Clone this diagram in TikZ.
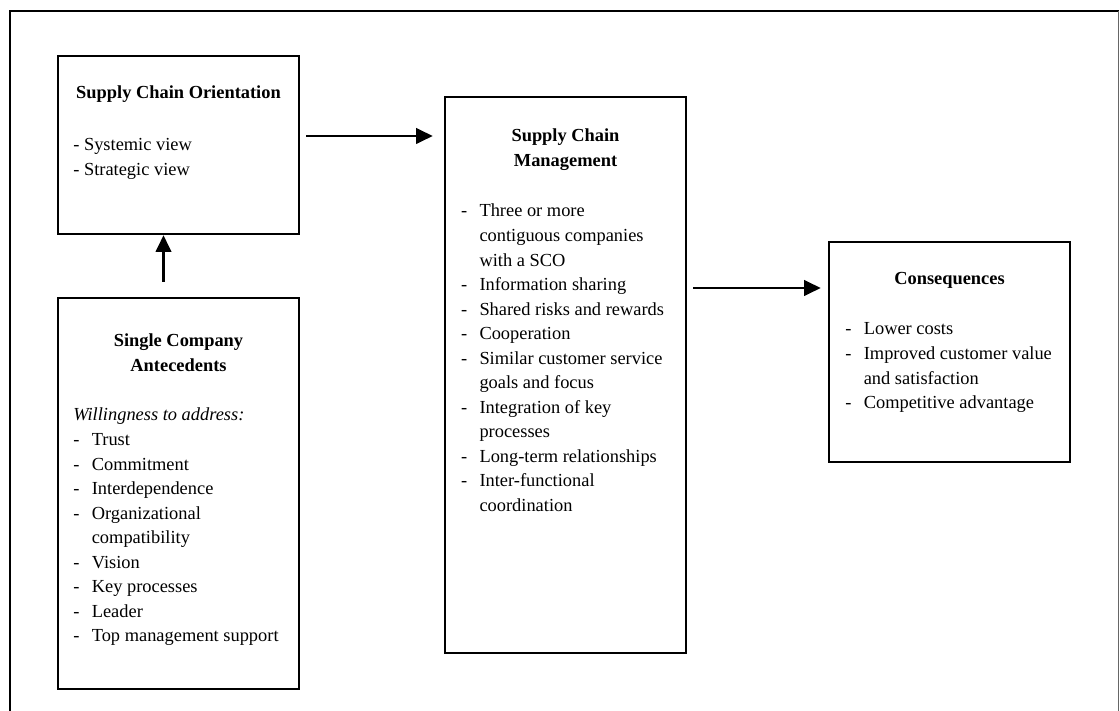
\documentclass[tikz,border=0pt]{standalone}
\usepackage{fontspec}
\setmainfont{Liberation Serif}
\usetikzlibrary{arrows.meta,calc,fit}
\newlength{\pxu}\setlength{\pxu}{0.652pt}
\newcommand{\itemlist}[1]{\begin{tabular}[t]{@{}p{18.5\pxu}@{}l@{}}#1\end{tabular}}
\newcommand{\centerlines}[1]{\begin{tabular}[t]{@{}c@{}}#1\end{tabular}}
\begin{document}
\begin{tikzpicture}[x=0.652pt, y=-0.652pt,
  box/.style={draw, line width=1.6pt, inner sep=0pt},
  arr/.style={line width=1.6pt, -{Triangle[length=10.8pt,width=10pt]}},
  txt/.style={inner sep=0pt, font=\fontsize{12}{16}\selectfont},
  title/.style={txt, anchor=base, font=\fontsize{12}{16}\selectfont\bfseries},
  list/.style={txt, anchor=base west}]
\useasboundingbox (0,0) rectangle (1120,711);

% outer frame (open at the bottom)
\draw[line width=1.5pt] (10,720) -- (10,11) -- (1118.5,11);
\draw[line width=0.8pt, black!60] (1118.5,11) -- (1118.5,720);

% boxes
\node[box, fit={(58,56) (299,234)}] (sco) {};
\node[box, fit={(58,298) (299,689)}] (sca) {};
\node[box, fit={(445,97) (686,653)}] (scm) {};
\node[box, fit={(829,242) (1070,462)}] (cons) {};

% Supply Chain Orientation
\node[title] (scoTitle) at (178.5,99) {Supply Chain Orientation};
\node[txt, anchor=base west] (scoList) at (73,151)
  {\begin{tabular}[t]{@{}l@{}}- Systemic view\\- Strategic view\end{tabular}};

% Single Company Antecedents
\node[title] (scaTitle) at (178.5,347) {\centerlines{Single Company\\Antecedents}};
\node[list] (scaList) at (73,421) {\itemlist{%
  \multicolumn{2}{@{}l@{}}{\itshape Willingness to address:}\\
  - & Trust\\
  - & Commitment\\
  - & Interdependence\\
  - & Organizational\\
    & compatibility\\
  - & Vision\\
  - & Key processes\\
  - & Leader\\
  - & Top management support}};

% Supply Chain Management
\node[title] (scmTitle) at (565.5,142) {\centerlines{Supply Chain\\Management}};
\node[list] (scmList) at (460.7,217) {\itemlist{%
  - & Three or more\\
    & contiguous companies\\
    & with a SCO\\
  - & Information sharing\\
  - & Shared risks and rewards\\
  - & Cooperation\\
  - & Similar customer service\\
    & goals and focus\\
  - & Integration of key\\
    & processes\\
  - & Long-term relationships\\
  - & Inter-functional\\
    & coordination}};

% Consequences
\node[title] (consTitle) at (949.5,284.5) {Consequences};
\node[list] (consList) at (845,335) {\itemlist{%
  - & Lower costs\\
  - & Improved customer value\\
    & and satisfaction\\
  - & Competitive advantage}};

% connectors
\path (sco.east) ++(6,-9) coordinate (a1);
\path (scm.west) ++(-11,0) coordinate (a2);
\draw[arr] (a1) -- (a1 -| a2);

\path (scm.east) ++(6,0) coordinate (b1);
\path (cons.west) ++(-7,-64) coordinate (b2);
\draw[arr] (b1 |- b2) -- (b2);

\path (sca.north) ++(-15,-15) coordinate (c1);
\draw[arr] (c1) -- (c1 |- sco.south);
\end{tikzpicture}
\end{document}
